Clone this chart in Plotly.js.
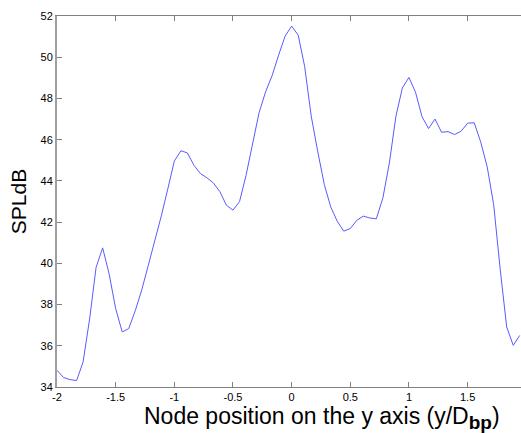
<!DOCTYPE html>
<html>
<head>
<meta charset="utf-8">
<script src="https://cdn.plot.ly/plotly-3.0.1.min.js"></script>
<style>html,body{margin:0;padding:0;background:#fff;}#chart{width:521px;height:433px;}</style>
</head>
<body>
<div id="chart"></div>
<script>
const nodePosition = [-2, -1.944, -1.889, -1.833, -1.778, -1.722, -1.667, -1.611, -1.556, -1.5,
  -1.444, -1.389, -1.333, -1.278, -1.222, -1.167, -1.111, -1.056, -1, -0.944,
  -0.889, -0.833, -0.778, -0.722, -0.667, -0.611, -0.556, -0.5, -0.444, -0.389,
  -0.333, -0.278, -0.222, -0.167, -0.111, -0.056, 0, 0.056, 0.111, 0.167,
  0.222, 0.278, 0.333, 0.389, 0.444, 0.5, 0.556, 0.611, 0.667, 0.722,
  0.778, 0.833, 0.889, 0.944, 1, 1.056, 1.111, 1.167, 1.222, 1.278,
  1.333, 1.389, 1.444, 1.5, 1.556, 1.611, 1.667, 1.722, 1.778, 1.833,
  1.889, 1.944];
const splDb = [34.81, 34.46, 34.36, 34.31, 35.21, 37.3, 39.8, 40.75, 39.5, 37.8,
  36.67, 36.83, 37.7, 38.7, 39.9, 41.08, 42.3, 43.6, 44.96, 45.46,
  45.36, 44.76, 44.36, 44.15, 43.9, 43.47, 42.82, 42.58, 43.0, 44.26,
  45.8, 47.3, 48.32, 49.1, 50.1, 51.02, 51.51, 51.07, 49.55, 47.14,
  45.44, 43.83, 42.74, 42.04, 41.56, 41.69, 42.09, 42.29, 42.2, 42.16,
  43.18, 44.87, 47.14, 48.51, 49.02, 48.3, 47.12, 46.54, 47.0, 46.36,
  46.39, 46.25, 46.41, 46.8, 46.82, 45.9, 44.68, 42.85, 39.7, 36.91,
  36.02, 36.5];
const xTicks = [-2, -1.5, -1, -0.5, 0, 0.5, 1, 1.5];
const xTickLabels = ['-2', '-1.5', '-1', '-0.5', '0', '0.5', '1', '1.5'];
const yTicks = [34, 36, 38, 40, 42, 44, 46, 48, 50, 52];
const xTitle = 'Node position on the y axis (y/D<sub><span style="font-size:19px"><b>bp</b></span></sub>)';
const yTitle = 'SPLdB';

const trace = {
  x: nodePosition, y: splDb, type: 'scatter', mode: 'lines',
  line: {color: '#5a5aff', width: 1}, hoverinfo: 'none'
};
const layout = {
  width: 521, height: 433,
  margin: {l: 57, r: 0, t: 16, b: 46},
  paper_bgcolor: '#fff', plot_bgcolor: '#fff',
  font: {family: 'Liberation Sans, Arial, sans-serif', size: 11, color: '#000'},
  showlegend: false,
  xaxis: {
    range: [-2, 1.955], tickvals: xTicks, ticktext: xTickLabels,
    ticks: 'inside', ticklen: 5, tickcolor: '#808080', tickwidth: 1,
    showline: true, linecolor: '#808080', linewidth: 1, mirror: 'ticks',
    showgrid: false, zeroline: false,
    tickfont: {size: 11, color: '#000'}
  },
  yaxis: {
    range: [34, 52], tickvals: yTicks,
    ticks: 'inside', ticklen: 5, tickcolor: '#808080', tickwidth: 1,
    showline: true, linecolor: '#a0a0a0', linewidth: 2, mirror: false,
    showgrid: false, zeroline: false,
    tickfont: {size: 11, color: '#000'},
    title: {text: yTitle, font: {size: 21, color: '#000'}, standoff: 8}
  },
  annotations: [{
    text: xTitle, xref: 'paper', yref: 'paper',
    x: 0.571, y: -0.038, xanchor: 'center', yanchor: 'top',
    showarrow: false, font: {size: 23, color: '#000'}
  }]
};
Plotly.newPlot('chart', [trace], layout, {staticPlot: true, displayModeBar: false});
</script>
</body>
</html>
